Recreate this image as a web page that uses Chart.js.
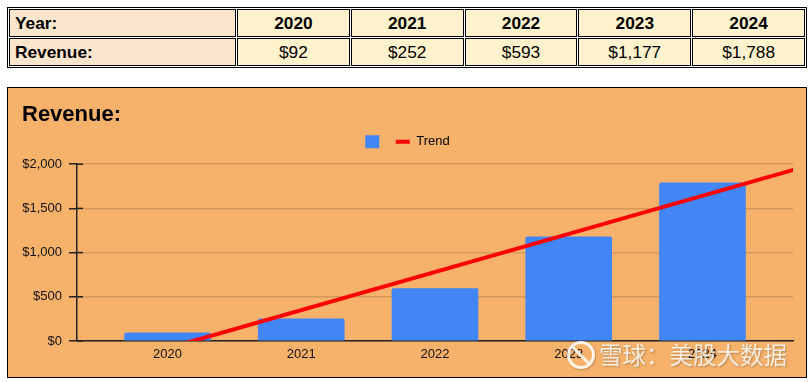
<!DOCTYPE html>
<html>
<head>
<meta charset="utf-8">
<script src="https://cdn.jsdelivr.net/npm/chart.js@4.4.1/dist/chart.umd.min.js"></script>
<style>
  html, body { margin: 0; padding: 0; background: #ffffff; width: 812px; height: 382px; overflow: hidden; }
  body { position: relative; font-family: "Liberation Sans", Arial, sans-serif; }
  #tbl { position: absolute; left: 7px; top: 7px; width: 800px; border-collapse: separate; border-spacing: 1px;
         border: 1px solid #000; table-layout: fixed; font-size: 17.3px; color: #000; }
  #tbl td { border: 1px solid #000; padding: 0 5px; box-sizing: border-box; height: 28px;
            background: #fff2cc; text-align: center; }
  #tbl td.head { background: #fce5cd; text-align: left; font-weight: bold; }
  #tbl tr.yr td { font-weight: bold; }
  #box { position: absolute; left: 7px; top: 87px; width: 800px; height: 291px; box-sizing: border-box;
         border: 1px solid #000; background: #f6b26b; }
  #cv { position: absolute; left: 0; top: 0; }
  #wm { position: absolute; left: 599px; top: 339px; font-family: "Noto Sans CJK SC", sans-serif; font-size: 23.5px; line-height: 30px;
        color: rgba(255,255,255,0.82); text-shadow: 1px 1px 2px rgba(90,60,30,0.4); white-space: nowrap; }
  #logo { position: absolute; left: 567px; top: 341px; width: 22px; height: 22px; border: 3px solid rgba(255,255,255,0.85);
          border-radius: 50%; box-shadow: 1px 1px 2px rgba(90,60,30,0.35); overflow: hidden; }
  #logo::after { content: ""; position: absolute; left: 9px; top: -2px; width: 3px; height: 26px; background: rgba(255,255,255,0.85); transform: rotate(-45deg); }
</style>
</head>
<body>
<table id="tbl"><colgroup><col style="width:227px"><col><col><col><col><col></colgroup>
  <tbody>
    <tr class="yr" id="rowYear"></tr>
    <tr id="rowRev"></tr>
  </tbody>
</table>
<div id="box"><canvas id="cv" width="798" height="289"></canvas></div>
<div id="logo"></div>
<div id="wm">雪球：美股大数据</div>
<script>
const years = [2020, 2021, 2022, 2023, 2024];
const revenue = [92, 252, 593, 1177, 1788];
const yTicks = [0, 500, 1000, 1500, 2000];
const trendX = [2019.32, 2024.68];
const trendY = [-375, 1936];
const chartTitle = 'Revenue:';
const trendLabel = 'Trend';

const fmt = v => '$' + v.toLocaleString('en-US');

// table
const ry = document.getElementById('rowYear');
const rr = document.getElementById('rowRev');
ry.innerHTML = '<td class="head">Year:</td>' + years.map(y => '<td>' + y + '</td>').join('');
rr.innerHTML = '<td class="head">Revenue:</td>' + revenue.map(v => '<td>' + fmt(v) + '</td>').join('');

const FONT = '"Liberation Sans", Arial, sans-serif';
const LEGEND_EXTRA = 6;
const legendFit = {
  id: 'legendFit',
  beforeInit(chart) {
    const lg = chart.legend;
    if (!lg) return;
    const orig = lg.fit;
    lg.fit = function () { orig.call(this); this.height += LEGEND_EXTRA; };
  }
};
const tickCross = {
  id: 'tickCross',
  afterDraw(chart) {
    const y = chart.scales.y, ctx = chart.ctx;
    ctx.save();
    ctx.strokeStyle = '#222';
    ctx.lineWidth = 1.5;
    y.ticks.forEach(t => {
      const py = y.getPixelForValue(t.value);
      ctx.beginPath();
      ctx.moveTo(chart.chartArea.left, py);
      ctx.lineTo(chart.chartArea.left + 6, py);
      ctx.stroke();
    });
    ctx.restore();
  }
};

new Chart(document.getElementById('cv'), {
  type: 'bar',
  data: {
    datasets: [
      {
        type: 'bar',
        label: '',
        data: years.map((y, i) => ({ x: y, y: revenue[i] })),
        backgroundColor: '#4285f4',
        barThickness: 86,
        borderRadius: { topLeft: 2, topRight: 2 },
        borderSkipped: 'bottom',
        order: 2
      },
      {
        type: 'line',
        label: trendLabel,
        data: trendX.map((x, i) => ({ x: x, y: trendY[i] })),
        borderColor: '#ff0000',
        borderWidth: 4,
        pointRadius: 0,
        clip: 0,
        order: 1
      }
    ]
  },
  options: {
    responsive: false,
    animation: false,
    devicePixelRatio: 1,
    layout: { padding: { left: 14, right: 13, top: 0, bottom: 0 } },
    plugins: {
      tooltip: { enabled: false },
      title: {
        display: true, text: chartTitle, align: 'start', color: '#000',
        font: { family: FONT, size: 22, weight: 'bold', lineHeight: 1.1 },
        padding: { top: 15, bottom: -2 }
      },
      legend: {
        display: true,
        labels: {
          usePointStyle: true,
          pointStyleWidth: 14,
          font: { family: FONT, size: 13 },
          color: '#333',
          padding: 10,
          generateLabels: () => [
            { text: '', fillStyle: '#4285f4', strokeStyle: '#4285f4', lineWidth: 0, pointStyle: 'rect', datasetIndex: 0 },
            { text: trendLabel, fillStyle: '#ff0000', strokeStyle: '#ff0000', lineWidth: 4, pointStyle: 'line', datasetIndex: 1 }
          ]
        }
      }
    },
    scales: {
      x: {
        type: 'linear',
        offset: false,
        min: 2019.323, max: 2024.677,
        afterBuildTicks: s => { s.ticks = years.map(v => ({ value: v })); },
        afterFit: s => { s.height = 36; },
        grid: { display: false, drawTicks: false, offset: false },
        border: { display: true, color: '#222', width: 1.5 },
        ticks: {
          callback: v => String(v), color: '#111', padding: 6,
          font: { family: FONT, size: 13 }, maxRotation: 0, autoSkip: false
        }
      },
      y: {
        min: 0, max: 2000,
        afterBuildTicks: s => { s.ticks = yTicks.map(v => ({ value: v })); },
        afterFit: s => { s.width = 55; },
        grid: { color: '#d4995a', lineWidth: 1.5, tickColor: '#222', tickLength: 8, drawTicks: true },
        border: { display: true, color: '#222', width: 1.5 },
        ticks: { callback: v => fmt(v), color: '#111', padding: 7, font: { family: FONT, size: 13 } }
      }
    }
  },
  plugins: [legendFit, tickCross]
});
</script>
</body>
</html>
